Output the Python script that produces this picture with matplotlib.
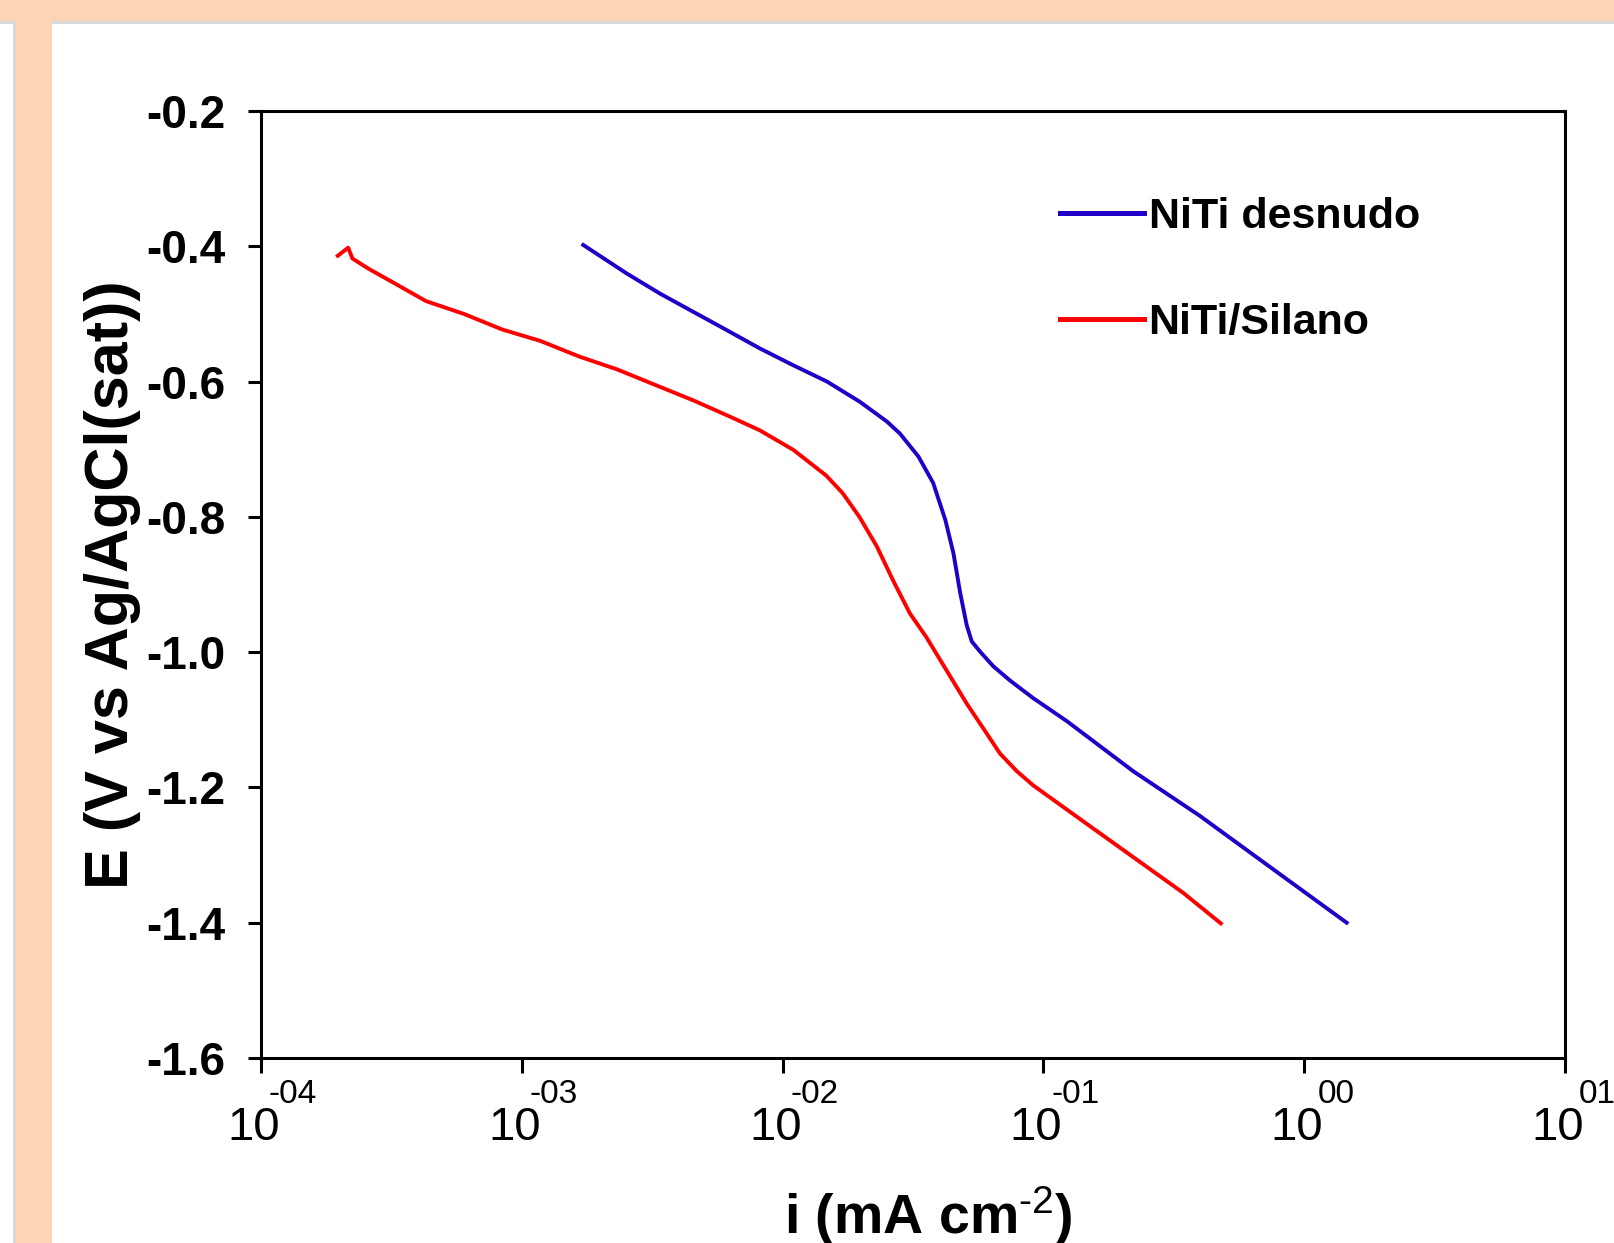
import matplotlib.pyplot as plt
from matplotlib.patches import Rectangle

# current density (mA cm-2) and potential (V vs Ag/AgCl)
i_desnudo = [1.72e-3, 2.52e-3, 3.39e-3, 4.55e-3, 6.11e-3, 8.18e-3, 1.10e-2, 1.48e-2,
             1.98e-2, 2.51e-2, 2.82e-2, 3.32e-2, 3.78e-2, 4.21e-2, 4.52e-2, 4.80e-2,
             5.08e-2, 5.31e-2, 5.71e-2, 6.43e-2, 7.45e-2, 9.14e-2, 0.123, 0.221,
             0.398, 0.718, 1.455]
E_desnudo = [-0.398, -0.440, -0.470, -0.497, -0.524, -0.551, -0.576, -0.600,
             -0.630, -0.659, -0.677, -0.711, -0.750, -0.805, -0.854, -0.913,
             -0.960, -0.984, -0.999, -1.021, -1.042, -1.068, -1.102, -1.176,
             -1.242, -1.314, -1.400]

i_silano = [1.97e-4, 2.16e-4, 2.24e-4, 2.58e-4, 3.16e-4, 4.29e-4, 6.00e-4, 8.41e-4,
            1.18e-3, 1.66e-3, 2.32e-3, 3.25e-3, 4.56e-3, 6.38e-3, 8.17e-3, 1.10e-2,
            1.47e-2, 1.70e-2, 1.97e-2, 2.30e-2, 2.66e-2, 3.08e-2, 3.56e-2,
            5.08e-2, 5.89e-2, 6.82e-2, 7.91e-2, 9.14e-2, 0.142, 0.221, 0.344, 0.479]
E_silano = [-0.414, -0.402, -0.418, -0.433, -0.452, -0.481, -0.500, -0.523,
            -0.540, -0.563, -0.582, -0.605, -0.628, -0.653, -0.672, -0.701,
            -0.739, -0.765, -0.800, -0.844, -0.895, -0.943, -0.978,
            -1.076, -1.113, -1.150, -1.176, -1.197, -1.250, -1.303, -1.356, -1.401]

labels = ["NiTi desnudo", "NiTi/Silano"]
colors = ["#2000C8", "#FF0000"]

x_ticks = [1e-4, 1e-3, 1e-2, 1e-1, 1e0, 1e1]
x_exponents = ["-04", "-03", "-02", "-01", "00", "01"]
y_ticks = [-0.2, -0.4, -0.6, -0.8, -1.0, -1.2, -1.4, -1.6]

plt.rcParams["font.family"] = ["Liberation Sans", "DejaVu Sans"]
plt.rcParams["mathtext.fontset"] = "custom"
plt.rcParams["mathtext.rm"] = "Liberation Sans"
plt.rcParams["mathtext.it"] = "Liberation Sans:italic"
plt.rcParams["mathtext.bf"] = "Liberation Sans:bold"
plt.rcParams["axes.unicode_minus"] = False

W, H = 1614, 1243
fig = plt.figure(figsize=(W / 100, H / 100), dpi=100)

# slide-like frame around the chart
peach = "#FCD5B5"
gray = "#D9D9D9"
fig.add_artist(Rectangle((0, 1 - 24 / H), 1, 3 / H, transform=fig.transFigure, color=gray, lw=0))
fig.add_artist(Rectangle((13 / W, 0), 3 / W, 1 - 24 / H, transform=fig.transFigure, color=gray, lw=0))
fig.add_artist(Rectangle((0, 1 - 21 / H), 1, 21 / H, transform=fig.transFigure, color=peach, lw=0))
fig.add_artist(Rectangle((16 / W, 0), 36 / W, 1, transform=fig.transFigure, color=peach, lw=0))

ax = fig.add_axes([261 / W, 1 - 1058 / H, (1565 - 261) / W, (1058 - 111) / H])

ax.plot(i_desnudo, E_desnudo, color=colors[0], lw=2.8, label=labels[0])
ax.plot(i_silano, E_silano, color=colors[1], lw=2.8, label=labels[1])

ax.set_xscale("log")
ax.set_xlim(1e-4, 1e1)
ax.set_ylim(-1.6, -0.2)
ax.set_xticks(x_ticks)
ax.set_xticklabels([])
ax.minorticks_off()
ax.set_yticks(y_ticks)
ax.set_yticklabels([f"{v:.1f}" for v in y_ticks], fontsize=33, fontweight="bold")

# "10" with a raised exponent, Excel style
for t, e in zip(x_ticks, x_exponents):
    ax.annotate("10", xy=(t, 0), xycoords=("data", "axes fraction"),
                xytext=(19, -82), textcoords="offset pixels",
                ha="right", va="baseline", fontsize=34, annotation_clip=False)
    dx = 8 if e.startswith("-") else 14
    ax.annotate(e, xy=(t, 0), xycoords=("data", "axes fraction"),
                xytext=(dx, -45), textcoords="offset pixels",
                ha="left", va="baseline", fontsize=24, annotation_clip=False)

for s in ax.spines.values():
    s.set_linewidth(2.2)
ax.tick_params(axis="y", direction="out", length=9.5, width=2.2, pad=16)
ax.tick_params(axis="x", direction="out", length=11, width=2.2, pad=3)

ax.set_ylabel("E (V vs Ag/AgCl(sat))", fontsize=44, fontweight="bold")
ax.yaxis.set_label_coords(-0.092, 0.5)
ax.set_xlabel(r"i (mA cm$^{\text{-}2}$)", fontsize=40, fontweight="bold")
ax.xaxis.set_label_coords(0.512, -0.134)

leg = ax.legend(loc="upper left", bbox_to_anchor=(0.613, 0.909), frameon=False,
                handlelength=1.95, handletextpad=0.1,
                labelspacing=1.52, borderpad=0, borderaxespad=0,
                prop={"weight": "bold", "size": 31})
for line in leg.get_lines():
    line.set_linewidth(3.6)

plt.savefig("out.png", dpi=100)
